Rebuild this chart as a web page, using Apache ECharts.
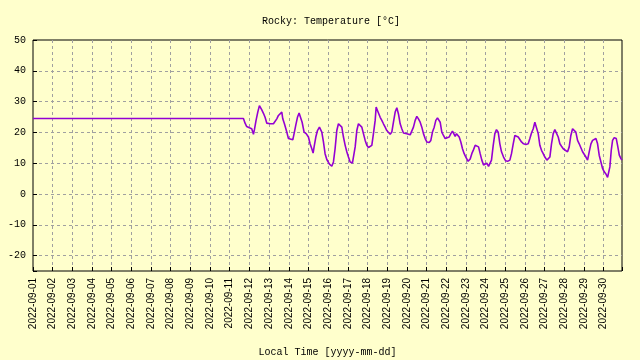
<!DOCTYPE html>
<html>
<head>
<meta charset="utf-8">
<script src="https://cdn.jsdelivr.net/npm/echarts@6/dist/echarts.min.js"></script>
<style>html,body{margin:0;padding:0;background:#ffffcc;}#c{width:640px;height:360px;}</style>
</head>
<body>
<div id="c"></div>
<script>
// hours since 2022-09-01 00:00 (local time)
const hours = [0, 256.7, 258.7, 260.7, 264.0, 266.8, 268.1, 268.9, 270.1, 272.1, 274.2, 276.2, 277.8, 279.1, 281.1, 283.1, 285.2, 287.2, 289.2, 291.3, 293.3, 295.3, 297.4, 299.4, 301.4, 303.5, 304.7, 306.7, 309.6, 311.6, 313.6, 316.9, 318.5, 320.5, 322.6, 324.6, 326.6, 328.3, 330.7, 333.2, 336.0, 338.0, 340.1, 341.7, 342.9, 345.0, 347.0, 349.4, 351.1, 352.3, 354.3, 356.3, 358.4, 361.6, 364.5, 366.5, 368.5, 370.6, 372.6, 374.6, 376.7, 378.7, 380.8, 382.8, 384.8, 386.9, 389.7, 390.9, 393.0, 395.0, 397.0, 399.1, 401.1, 403.1, 405.2, 407.2, 409.2, 411.3, 413.3, 415.3, 417.4, 418.6, 420.2, 421.8, 423.5, 425.5, 427.5, 429.6, 431.6, 433.6, 435.7, 437.7, 439.7, 441.8, 443.8, 445.8, 447.9, 449.9, 451.9, 453.9, 456.0, 460.1, 462.1, 464.1, 466.2, 468.2, 470.2, 472.3, 474.3, 476.3, 478.4, 480.4, 483.3, 485.3, 487.3,
  489.4, 491.4, 493.4, 495.5, 496.7, 498.7, 500.7, 502.8, 504.8, 507.7, 509.7, 511.7, 513.8, 515.0, 516.6, 517.8, 519.9, 521.9, 523.9, 526.0, 528.0, 530.8, 533.3, 535.3, 537.4, 539.4, 541.4, 543.5, 545.5, 547.5, 549.6, 551.6, 553.6, 555.7, 557.7, 559.3, 561.4, 563.4, 565.4, 567.5, 569.5, 571.5, 574.0, 576.4, 578.9, 581.7, 583.7, 585.8, 587.8, 589.8, 591.9, 593.9, 595.9, 598.4, 601.2, 604.1, 606.1, 608.1, 610.2, 612.2, 614.6, 616.3, 618.3, 620.3, 622.4, 624.4, 626.9, 628.5, 630.5, 632.5, 634.6, 636.6, 638.6, 640.7, 642.7, 644.7, 646.8, 648.8, 652.1, 654.1, 656.1, 658.2, 660.2, 662.2, 664.3, 666.3, 668.3, 670.4, 672.4, 674.5, 676.5, 678.5, 680.6, 682.6, 684.6, 686.7, 688.7, 690.7, 692.8, 694.8, 696.8, 698.9, 700.9, 702.1, 703.7, 705.4, 707.0, 709.0, 711.5, 713.1, 715.2, 717.2, 718.4];
const temps = [24.5, 24.5, 23.0, 21.9, 21.5, 21.2, 20.1, 19.4, 20.9, 23.9, 26.6, 28.7, 28.5, 27.3, 26.2, 24.9, 23.0, 22.8, 22.8, 22.5, 22.8, 23.3, 24.4, 25.5, 26.0, 26.6, 24.4, 22.8, 20.1, 18.0, 17.4, 17.6, 19.6, 22.3, 24.9, 26.3, 26.2, 23.3, 20.1, 19.6, 18.5, 16.3, 14.7, 13.3, 15.3, 18.5, 20.6, 21.7, 21.9, 20.1, 16.9, 13.1, 11.2, 9.7, 9.0, 10.4, 14.7, 20.6, 22.8, 23.3, 21.7, 18.5, 15.8, 13.7, 12.0, 10.4, 10.1, 10.4, 15.3, 20.6, 22.8, 23.0, 21.7, 19.6, 17.4, 15.8, 15.1, 15.0, 15.8, 19.6, 23.9, 28.2, 27.1, 26.6, 24.9, 23.9, 22.8, 21.7, 20.6, 20.1, 19.4, 20.1, 23.3, 26.6, 28.0, 26.0, 22.8, 21.2, 19.8, 20.1, 19.6, 19.2, 19.6, 21.7, 23.9, 25.2, 24.4, 23.3, 21.7, 19.6, 18.0, 16.9, 16.7, 17.4, 20.1,
  21.7, 23.9, 24.7, 24.9, 23.3, 20.1, 19.0, 18.0, 18.3, 18.5, 19.6, 20.4, 20.4, 18.7, 19.6, 20.1, 18.5, 16.9, 14.7, 13.1, 12.0, 10.6, 11.4, 13.1, 14.4, 15.8, 16.3, 15.3, 13.1, 11.0, 9.4, 10.0, 10.0, 9.0, 8.5, 11.0, 15.8, 19.6, 20.9, 20.1, 16.3, 13.7, 12.0, 10.8, 10.6, 11.0, 13.1, 16.3, 19.0, 19.0, 18.5, 18.0, 16.9, 16.3, 16.1, 16.3, 18.0, 19.8, 21.2, 23.3, 23.3, 19.6, 15.8, 14.2, 13.1, 12.0, 11.0, 10.8, 12.0, 16.3, 19.6, 20.9, 20.9, 18.5, 16.3, 15.5, 14.7, 14.4, 13.7, 15.3, 19.0, 21.2, 21.7, 20.1, 17.4, 16.3, 16.0, 13.7, 13.1, 12.0, 11.0, 13.7, 16.3, 17.4, 17.6, 18.0, 16.3, 12.6, 10.4, 8.3, 7.2, 6.5, 5.4, 5.6, 8.8, 14.2, 17.4, 18.3, 18.0, 15.8, 12.6, 11.5, 11.0];
const startUTC = Date.UTC(2022, 8, 1);
const xMaxHours = 718.5;
const yMin = -25, yMax = 50;
const titleText = 'Rocky: Temperature [°C]';
const xName = 'Local Time [yyyy-mm-dd]';

const font = 'Liberation Mono';
function fmtDate(h) {
  if (h % 24 !== 0) return '';
  const d = new Date(startUTC + h * 3600000);
  const p = n => String(n).padStart(2, '0');
  return d.getUTCFullYear() + '-' + p(d.getUTCMonth() + 1) + '-' + p(d.getUTCDate());
}
const data = hours.map((h, i) => [h, temps[i]]);
const chart = echarts.init(document.getElementById('c'), null, {renderer: 'canvas'});
chart.setOption({
  animation: false,
  backgroundColor: '#ffffcc',
  title: {text: titleText, left: 326, textAlign: 'center', top: 11,
    textStyle: {fontFamily: font, fontSize: 10, fontWeight: 'normal', color: '#000'}},
  grid: {left: 33, right: 18, top: 40, bottom: 89, show: true, borderColor: '#000', borderWidth: 1,
    backgroundColor: '#ffffcc', outerBoundsMode: 'none'},
  xAxis: {
    type: 'value', min: 0, max: xMaxHours, interval: 24,
    name: xName, nameLocation: 'middle', nameGap: 76,
    nameTextStyle: {fontFamily: font, fontSize: 10, color: '#000'},
    axisLine: {show: false, onZero: false},
    axisTick: {show: true, inside: true, length: 4, lineStyle: {color: '#000'}},
    axisLabel: {rotate: 90, margin: 7, fontSize: 10, color: '#000', formatter: fmtDate},
    splitLine: {show: true, showMinLine: false, showMaxLine: false, lineStyle: {color: '#a0a0a0', type: [3, 3], width: 1}}
  },
  yAxis: {
    type: 'value', min: yMin, max: yMax, splitNumber: 8,
    axisLine: {show: false, onZero: false},
    axisTick: {show: true, inside: true, length: 4, lineStyle: {color: '#000'}},
    axisLabel: {margin: 7, fontFamily: font, fontSize: 10, color: '#000',
      formatter: v => (v % 10 === 0 ? String(v) : '')},
    splitLine: {show: true, showMinLine: false, showMaxLine: false, lineStyle: {color: '#a0a0a0', type: [3, 3], width: 1}}
  },
  series: [{
    type: 'line', data: data,
    showSymbol: false, symbol: 'none',
    lineStyle: {color: '#9400d3', width: 1.6},
    itemStyle: {color: '#9400d3'}
  }]
});
</script>
</body>
</html>
